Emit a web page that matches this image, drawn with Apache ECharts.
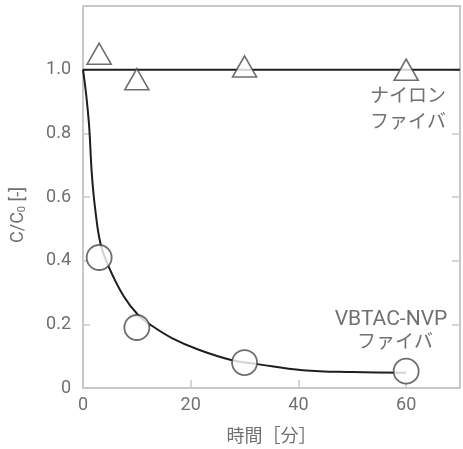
<!DOCTYPE html>
<html>
<head>
<meta charset="utf-8">
<script src="https://cdn.jsdelivr.net/npm/echarts@6/dist/echarts.min.js"></script>
<style>
  html, body { margin: 0; padding: 0; background: #ffffff; }
  #chart { width: 463px; height: 449px; }
</style>
</head>
<body>
<div id="chart"></div>
<script>
// Measured points: C/C0 versus time [min]
const nylonTime = [3, 10, 30, 60];
const nylonRatio = [1.05, 0.97, 1.01, 1.0];
const vbtacTime = [3, 10, 30, 60];
const vbtacRatio = [0.41, 0.19, 0.08, 0.053];

// Fitted curves
const nylonFitTime = [0, 70];
const nylonFitRatio = [1.0, 1.0];
const vbtacFitTime = [0, 0.6, 1.15, 1.65, 2.35, 3.3, 4.8, 7.5, 10.2, 12.4, 16.6, 21.5, 27.5, 32.4, 40.8, 50, 60];
const vbtacFitRatio = [1.0, 0.92, 0.82, 0.67, 0.55, 0.45, 0.38, 0.29, 0.23, 0.2, 0.156, 0.12, 0.088, 0.075, 0.056, 0.05, 0.048];

// Axis ticks
const xTicks = [0, 20, 40, 60];
const yTicks = [0, 0.2, 0.4, 0.6, 0.8, 1.0];

const pairs = (xs, ys) => xs.map((x, i) => [x, ys[i]]);

const labelFont = 'Roboto, "Liberation Sans", sans-serif';
const jpFont = '"Noto Sans CJK JP", sans-serif';
const axisGrey = '#c8c8c8';
const textGrey = '#707070';

const chart = echarts.init(document.getElementById('chart'), null, { renderer: 'canvas' });

chart.setOption({
  backgroundColor: '#ffffff',
  animation: false,
  grid: {
    left: 83, top: 6, right: -4, bottom: 59,
    show: true, borderColor: axisGrey, borderWidth: 2, backgroundColor: 'transparent'
  },
  xAxis: {
    type: 'value', min: 0, max: 70, interval: 20,
    name: '時間［分］', nameLocation: 'middle', nameGap: 38,
    nameTextStyle: { color: textGrey, fontSize: 18, fontFamily: jpFont },
    axisLine: { show: true, lineStyle: { color: axisGrey, width: 2 } },
    axisTick: { show: true, inside: true, length: 8, lineStyle: { color: axisGrey, width: 1.5 } },
    axisLabel: {
      color: textGrey, fontSize: 18, fontFamily: labelFont, margin: 8,
      formatter: v => (xTicks.includes(v) ? String(v) : '')
    },
    splitLine: { show: false }
  },
  yAxis: [{
    type: 'value', min: 0, max: 1.2, interval: 0.2,
    axisLine: { show: true, lineStyle: { color: axisGrey, width: 2 } },
    axisTick: { show: true, inside: true, length: 7, lineStyle: { color: axisGrey, width: 1.5 } },
    axisLabel: {
      color: textGrey, fontSize: 18, fontFamily: labelFont, margin: 12,
      formatter: v => {
        const hit = yTicks.find(t => Math.abs(t - v) < 1e-6);
        if (hit === undefined) return '';
        return hit === 0 ? '0' : hit.toFixed(1);
      }
    },
    splitLine: { show: false }
  }, {
    type: 'value', min: 0, max: 1.2, interval: 0.2, position: 'right',
    axisLine: { show: true, lineStyle: { color: axisGrey, width: 2 } },
    axisTick: { show: true, inside: true, length: 8, lineStyle: { color: axisGrey, width: 1.5 } },
    axisLabel: { show: false },
    splitLine: { show: false }
  }],
  series: [
    {
      name: 'nylon-fit', type: 'line', data: pairs(nylonFitTime, nylonFitRatio),
      symbol: 'none', lineStyle: { color: '#1e1e1e', width: 2 }, z: 2
    },
    {
      name: 'vbtac-fit', type: 'line', data: pairs(vbtacFitTime, vbtacFitRatio),
      symbol: 'none', smooth: 0.4,
      lineStyle: { color: '#1e1e1e', width: 2 }, z: 2
    },
    {
      name: 'nylon', type: 'scatter', data: pairs(nylonTime, nylonRatio),
      symbol: 'triangle', symbolSize: [24, 21],
      itemStyle: { color: '#ffffff', borderColor: '#4a4a4a', borderWidth: 1.6 }, z: 5
    },
    {
      name: 'vbtac', type: 'scatter', data: pairs(vbtacTime, vbtacRatio),
      symbol: 'circle', symbolSize: 25,
      itemStyle: { color: '#ffffff', borderColor: '#4a4a4a', borderWidth: 1.8 }, z: 5
    }
  ],
  graphic: [
    {
      type: 'text', x: 18, y: 215, rotation: Math.PI / 2,
      style: {
        text: 'C/C{s|0} [-]', fill: textGrey, fontSize: 18, fontFamily: labelFont,
        align: 'center', verticalAlign: 'middle',
        rich: { s: { fontSize: 11, fill: textGrey, fontFamily: labelFont, padding: [8, 0, 0, 0] } }
      }
    },
    {
      type: 'text', x: 408, y: 108,
      style: {
        text: 'ナイロン\nファイバ', fill: textGrey, fontSize: 19, fontFamily: jpFont,
        align: 'center', verticalAlign: 'middle', lineHeight: 26
      }
    },
    {
      type: 'text', x: 391, y: 330,
      style: {
        text: 'VBTAC-NVP', fill: textGrey, fontSize: 21, fontFamily: labelFont,
        align: 'center', verticalAlign: 'bottom'
      }
    },
    {
      type: 'text', x: 395, y: 331,
      style: {
        text: 'ファイバ', fill: textGrey, fontSize: 19, fontFamily: jpFont,
        align: 'center', verticalAlign: 'top'
      }
    }
  ]
});
</script>
</body>
</html>
